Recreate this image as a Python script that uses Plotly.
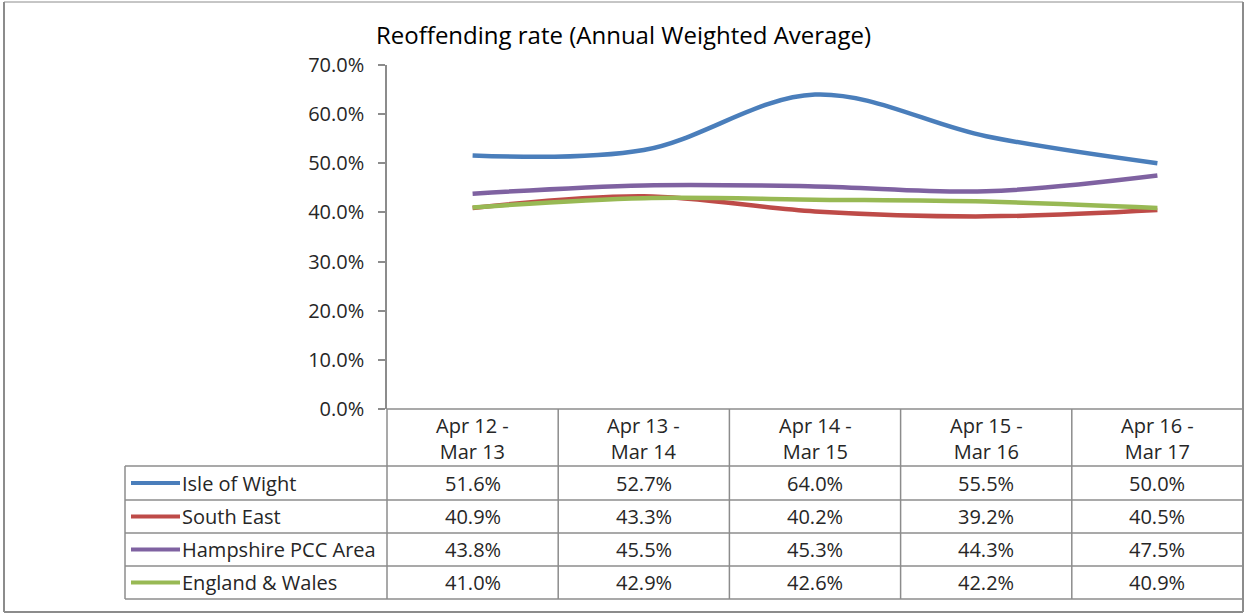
import plotly.graph_objects as go

categories = ["Apr 12 -<br>Mar 13", "Apr 13 -<br>Mar 14", "Apr 14 -<br>Mar 15", "Apr 15 -<br>Mar 16", "Apr 16 -<br>Mar 17"]
series_names = ["Isle of Wight", "South East", "Hampshire PCC Area", "England & Wales"]
isle_of_wight = [51.6, 52.7, 64.0, 55.5, 50.0]
south_east = [40.9, 43.3, 40.2, 39.2, 40.5]
hampshire = [43.8, 45.5, 45.3, 44.3, 47.5]
england_wales = [41.0, 42.9, 42.6, 42.2, 40.9]
colors = ["#4A7EBB", "#BE4B48", "#7F62A1", "#98B954"]
y_ticks = [0, 10, 20, 30, 40, 50, 60, 70]

W, H = 1246, 615
L, R, T, B = 387, 1243, 65, 409  # plot area in pixels

def px(x):
    return (x - L) / (R - L)

def py(y):
    return (B - y) / (B - T)

series = [isle_of_wight, south_east, hampshire, england_wales]
xs = list(range(len(categories)))

FONT = "Open Sans"
TXT = "#262626"
GRID = "#8C8C8C"
TS = 20

fig = go.Figure()
for name, vals, col in zip(series_names, series, colors):
    fig.add_trace(go.Scatter(
        x=xs, y=[v / 100 for v in vals], mode="lines", name=name,
        line=dict(color=col, width=4.5, shape="spline", smoothing=1.0),
        showlegend=False, hoverinfo="skip"))

shapes = []
def line(x0, y0, x1, y1, w=1.5, c=GRID):
    shapes.append(dict(type="line", xref="paper", yref="paper",
                       x0=px(x0), y0=py(y0), x1=px(x1), y1=py(y1),
                       line=dict(color=c, width=w)))

# outer chart border
line(4, 2, 4, 612, 2)
line(4, 612, 1243, 612, 2)
line(1243, 2, 1243, 612, 2)
line(4, 2, 1243, 2, 1)

# table
col_w = (R - L) / len(categories)
row_tops = [466, 500, 533, 566, 599]
line(L, B, R, B)
for yy in row_tops:
    line(125, yy, R, yy)
line(125, 466, 125, 599)
line(L, B, L, 599)
for i in range(1, len(categories)):
    line(L + i * col_w, B, L + i * col_w, 599)
line(R, B, R, 599)

annotations = []
# header labels
for i, c in enumerate(categories):
    annotations.append(dict(text=c, xref="paper", yref="paper",
                            x=px(L + (i + 0.5) * col_w), y=py(438),
                            showarrow=False, font=dict(family=FONT, size=TS, color=TXT),
                            xanchor="center", yanchor="middle"))
# rows
for r, (name, vals, col) in enumerate(zip(series_names, series, colors)):
    yc = (row_tops[r] + row_tops[r + 1]) / 2
    shapes.append(dict(type="line", xref="paper", yref="paper",
                       x0=px(131), x1=px(180), y0=py(yc), y1=py(yc),
                       line=dict(color=col, width=4)))
    annotations.append(dict(text=name, xref="paper", yref="paper",
                            x=px(180), y=py(yc), showarrow=False,
                            font=dict(family=FONT, size=TS, color=TXT),
                            xanchor="left", yanchor="middle"))
    for i, v in enumerate(vals):
        annotations.append(dict(text=f"{v:.1f}%", xref="paper", yref="paper",
                                x=px(L + (i + 0.5) * col_w), y=py(yc),
                                showarrow=False, font=dict(family=FONT, size=TS, color=TXT),
                                xanchor="center", yanchor="middle"))

# title
annotations.append(dict(text="Reoffending rate (Annual Weighted Average)", xref="paper", yref="paper",
                        x=px(623), y=py(34), showarrow=False,
                        font=dict(family=FONT, size=24, color="#000000"),
                        xanchor="center", yanchor="middle"))

fig.update_layout(
    width=W, height=H,
    margin=dict(l=L, r=W - R, t=T, b=H - B, pad=0),
    paper_bgcolor="white", plot_bgcolor="white",
    shapes=shapes, annotations=annotations,
    xaxis=dict(range=[-0.5, len(categories) - 0.5], showticklabels=False, showgrid=False,
               zeroline=False, showline=False, ticks=""),
    yaxis=dict(range=[0, 0.7], tickvals=[t / 100 for t in y_ticks],
               tickformat=".1%", showgrid=False, zeroline=False,
               showline=True, linecolor=GRID, linewidth=1.5,
               ticks="outside", ticklen=7, tickcolor=GRID, tickwidth=1.5,
               tickfont=dict(family=FONT, size=TS, color=TXT), ticklabelstandoff=10),
)

fig.write_html("out.html", config={"displayModeBar": False},
               post_script="document.body.style.margin='0';document.body.style.overflow='hidden';")
